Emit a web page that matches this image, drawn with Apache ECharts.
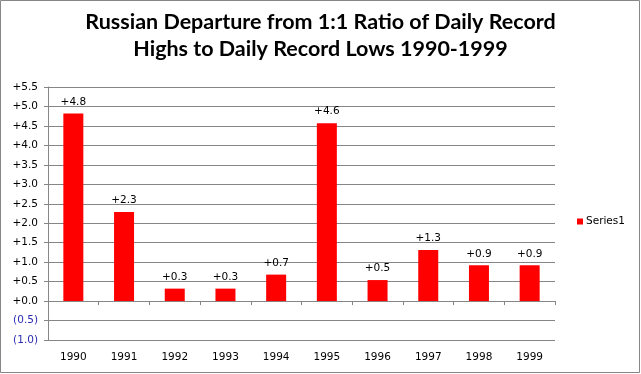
<!DOCTYPE html>
<html>
<head>
<meta charset="utf-8">
<script src="https://cdn.jsdelivr.net/npm/echarts@6/dist/echarts.min.js"></script>
<style>
html,body{margin:0;padding:0;background:#fff;}
#chart{width:641px;height:374px;}
</style>
</head>
<body>
<div id="chart"></div>
<script>
var titleLines = ['Russian Departure from 1:1 Ratio of Daily Record', 'Highs to Daily Record Lows 1990-1999'];
var categories = ['1990','1991','1992','1993','1994','1995','1996','1997','1998','1999'];
var seriesName = 'Series1';
var values = [4.82, 2.29, 0.32, 0.32, 0.68, 4.57, 0.54, 1.31, 0.92, 0.92];
var yMin = -1.0, yMax = 5.5, yStep = 0.5;

function fmt(v){
  if (v < 0) return '(' + Math.abs(v).toFixed(1) + ')';
  return '+' + v.toFixed(1);
}

var font = 'DejaVu Sans';
var chart = echarts.init(document.getElementById('chart'), null, {renderer:'canvas'});
chart.setOption({
  animation:false,
  backgroundColor:'#ffffff',
  title:{
    text: titleLines.join('\n'),
    left:'center', top:4,
    textStyle:{fontFamily:'Lato', fontWeight:'bold', fontSize:21.5, lineHeight:27, color:'#000'}
  },
  legend:{
    left:577, top:216, orient:'vertical', padding:0,
    icon:'rect', itemWidth:6, itemHeight:6, itemGap:4,
    textStyle:{fontFamily:font, fontSize:10.5, color:'#000', padding:[0,0,0,-2]},
    data:[seriesName]
  },
  grid:{left:48, right:86, top:87, bottom:34, containLabel:false},
  xAxis:[{
    type:'category', data:categories, position:'bottom',
    axisLine:{show:true, onZero:true, lineStyle:{color:'#868686', width:1}},
    axisTick:{show:true, length:4, alignWithLabel:false, lineStyle:{color:'#868686'}},
    axisLabel:{show:false},
    splitLine:{show:false}
  },{
    type:'category', data:categories, position:'bottom',
    axisLine:{show:false, onZero:false},
    axisTick:{show:false},
    axisLabel:{show:true, margin:12, fontFamily:font, fontSize:10.5, color:'#000'},
    splitLine:{show:false}
  }],
  yAxis:{
    type:'value', min:yMin, max:yMax, interval:yStep,
    axisLine:{show:true, lineStyle:{color:'#868686'}},
    axisTick:{show:true, length:4, lineStyle:{color:'#868686'}},
    axisLabel:{
      margin:10, fontFamily:font, fontSize:10.5,
      formatter:function(v){return fmt(v);},
      color:function(v){ return Number(v) < 0 ? '#2B2BB0' : '#000'; }
    },
    splitLine:{show:true, lineStyle:{color:'#868686', width:1}}
  },
  series:[{
    name:seriesName, type:'bar', xAxisIndex:0, data:values, barWidth:20,
    itemStyle:{color:'#ff0000'},
    label:{show:true, position:'top', distance:6, fontFamily:font, fontSize:10.5, color:'#000',
      formatter:function(p){return fmt(p.value);}}
  }],
  graphic:[{
    type:'rect', silent:true,
    shape:{x:0.5, y:0.5, width:639, height:372},
    style:{fill:null, stroke:'#868686', lineWidth:1}
  }]
});
</script>
</body>
</html>
